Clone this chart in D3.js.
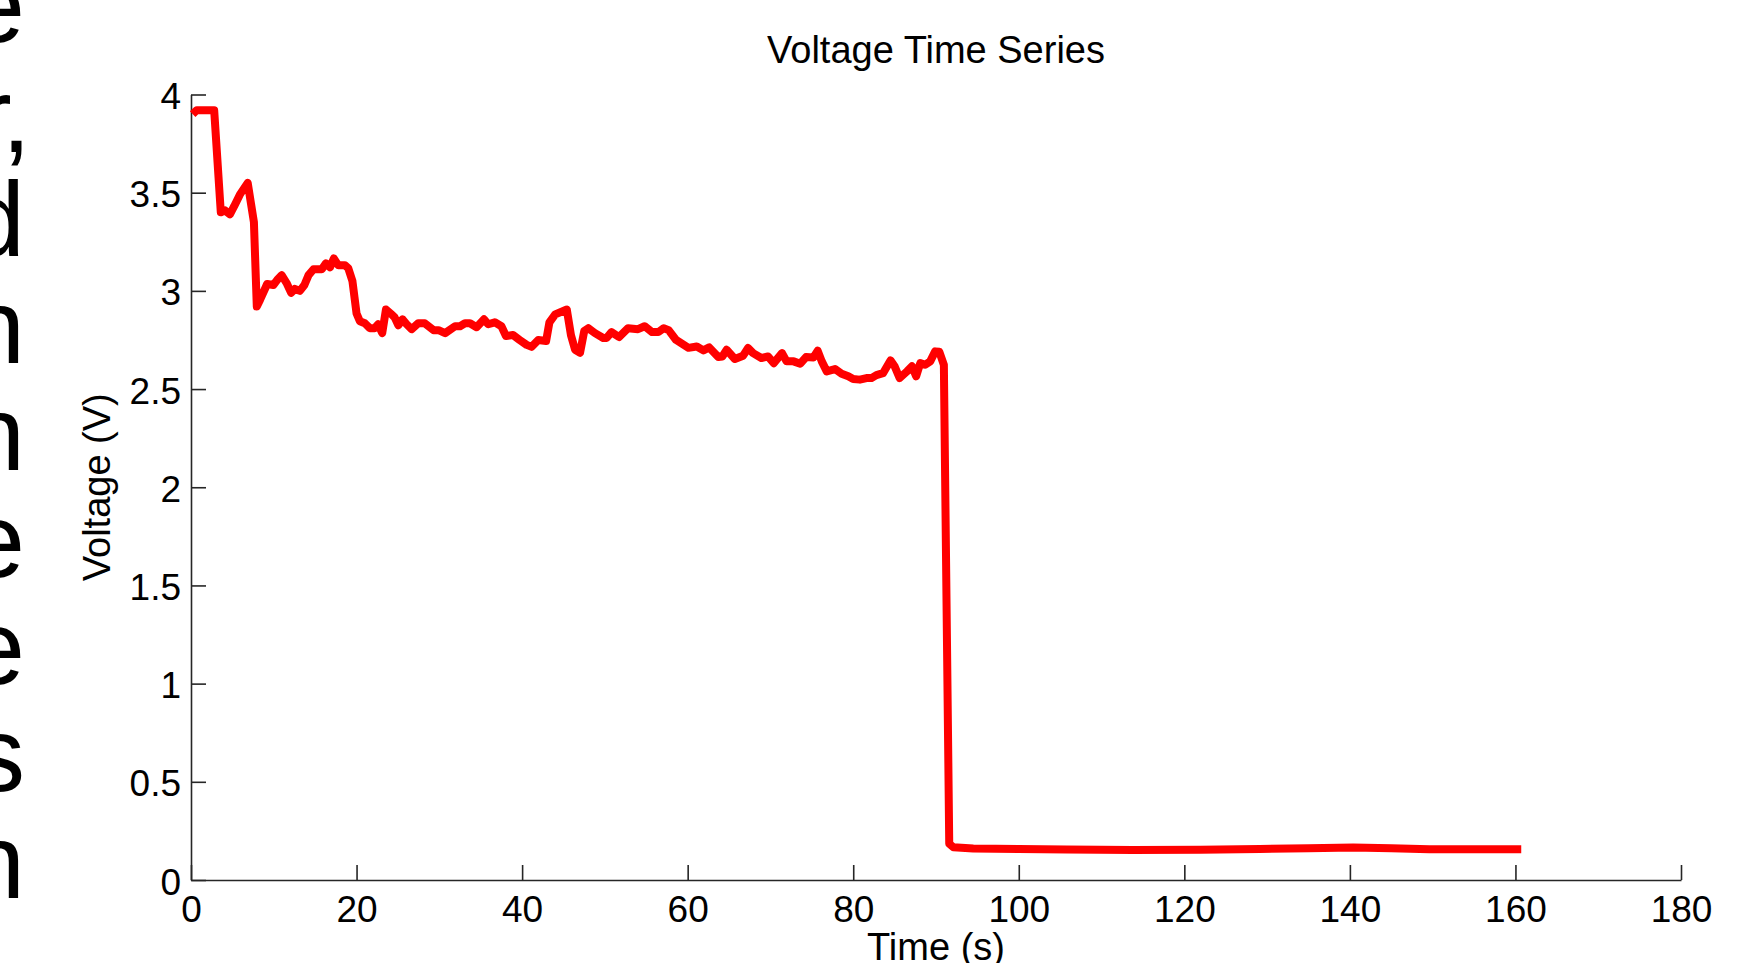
<!DOCTYPE html>
<html>
<head>
<meta charset="utf-8">
<script src="https://cdn.jsdelivr.net/npm/d3@7"></script>
<style>
  html, body { margin: 0; padding: 0; background: #ffffff; }
  svg { display: block; }
  text { font-family: "Liberation Sans", Arial, Helvetica, sans-serif; fill: #000; }
</style>
</head>
<body>
<svg id="chart" width="1762" height="963"></svg>
<script>
// ---- data ----
const chartTitle = "Voltage Time Series";
const xLabel = "Time (s)";
const yLabel = "Voltage (V)";

const xTicks = [0, 20, 40, 60, 80, 100, 120, 140, 160, 180];
const yTicks = [0, 0.5, 1, 1.5, 2, 2.5, 3, 3.5, 4];

const timeS = [
  0.2, 0.7, 2.8, 3.6, 4.1, 4.7, 5.2, 5.9, 6.85, 7.6,
  7.95, 8.35, 9.2, 9.95, 10.4, 10.95, 11.55, 12.1, 12.55, 13.15,
  13.7, 14.2, 14.8, 15.8, 16.3, 16.8, 17.25, 17.8, 18.6, 19.0,
  19.5, 20.0, 20.4, 21.0, 21.6, 22.2, 22.6, 23.1, 23.55, 24.25,
  24.6, 25.05, 25.55, 26.05, 26.65, 27.45, 28.25, 29.3, 29.9, 30.7,
  31.9, 32.5, 33.1, 33.7, 34.5, 35.4, 35.9, 36.7, 37.5, 38.05,
  38.9, 39.7, 40.55, 41.15, 41.95, 42.9, 43.3, 44.0, 45.4, 45.9,
  46.4, 47.0, 47.5, 48.0, 48.8, 49.8, 50.2, 50.8, 51.7, 52.8,
  54.0, 54.8, 55.7, 56.45, 57.1, 57.7, 58.6, 60.1, 61.1, 61.9,
  62.6, 63.7, 64.2, 64.7, 65.7, 66.7, 67.3, 67.9, 68.9, 69.7,
  70.4, 71.4, 71.95, 72.8, 73.6, 74.3, 75.2, 75.7, 76.2, 76.8,
  77.8, 78.6, 79.4, 80.0, 80.8, 81.6, 82.2, 82.8, 83.6, 84.5,
  85.0, 85.6, 86.5, 87.1, 87.6, 88.1, 88.7, 89.3, 89.9, 90.4,
  90.95, 91.6, 92.1, 94.5, 100, 105.8, 113.8, 121.9, 129.1, 135,
  140.4, 145, 149.6, 155, 160.7
];

const voltageV = [
  3.90, 3.92, 3.92, 3.40, 3.41, 3.39, 3.43, 3.49, 3.55, 3.35,
  2.92, 2.955, 3.035, 3.03, 3.055, 3.08, 3.04, 2.99, 3.01, 3.00,
  3.03, 3.08, 3.11, 3.11, 3.14, 3.12, 3.165, 3.13, 3.13, 3.115,
  3.05, 2.885, 2.845, 2.835, 2.81, 2.81, 2.83, 2.785, 2.905, 2.88,
  2.865, 2.825, 2.855, 2.83, 2.805, 2.835, 2.835, 2.80, 2.80, 2.785,
  2.82, 2.82, 2.835, 2.835, 2.815, 2.855, 2.83, 2.84, 2.82, 2.77,
  2.775, 2.75, 2.725, 2.715, 2.75, 2.745, 2.84, 2.88, 2.905, 2.775,
  2.70, 2.685, 2.795, 2.81, 2.785, 2.76, 2.76, 2.79, 2.765, 2.81,
  2.805, 2.82, 2.79, 2.79, 2.81, 2.80, 2.75, 2.71, 2.717, 2.697,
  2.712, 2.663, 2.666, 2.70, 2.653, 2.67, 2.709, 2.683, 2.658, 2.666,
  2.632, 2.683, 2.641, 2.641, 2.629, 2.663, 2.661, 2.695, 2.641, 2.59,
  2.602, 2.578, 2.565, 2.551, 2.548, 2.556, 2.556, 2.571, 2.581, 2.646,
  2.616, 2.556, 2.59, 2.616, 2.565, 2.632, 2.624, 2.641, 2.692, 2.69,
  2.623, 0.185, 0.167, 0.16, 0.158, 0.155, 0.153, 0.154, 0.158, 0.162,
  0.165, 0.162, 0.157, 0.156, 0.156
];

// cut-off text at the left edge of the picture (line ends of a neighbouring column)
const edgeLetters = ["e", "r,", "d", "n", "n", "e", "e", "s", "n"];

// ---- drawing ----
const svg = d3.select("#chart");
svg.append("rect").attr("width", 1762).attr("height", 963).attr("fill", "#fff");

const x = d3.scaleLinear().domain([0, 180]).range([191, 1681]);
const y = d3.scaleLinear().domain([0, 4]).range([880, 94.5]);

// edge letters (right-aligned, cut by the left border)
const edge = svg.append("g").attr("class", "edge-text");
edgeLetters.forEach((s, i) => {
  const base = 42 + 107 * i;
  edge.append("text")
    .attr("x", s.length > 1 ? 27 : 25)
    .attr("y", s.length > 1 ? base + 3 : base)
    .attr("text-anchor", "end")
    .style("font-size", "105px")
    .style("letter-spacing", s.length > 1 ? "-4px" : null)
    .text(s);
});

// axes
const axisColor = "#262626";
const xAxis = d3.axisBottom(x).tickValues(xTicks).tickSize(-15).tickSizeOuter(0)
  .tickFormat(d3.format("d"));
const yAxis = d3.axisLeft(y).tickValues(yTicks).tickSize(-15).tickSizeOuter(0)
  .tickFormat(d => String(d));

const gx = svg.append("g").attr("transform", `translate(0,${y(0)})`).call(xAxis);
const gy = svg.append("g").attr("transform", `translate(${x(0)},0)`).call(yAxis);

[gx, gy].forEach(g => {
  g.select(".domain").attr("stroke", axisColor).attr("stroke-width", 1.6);
  g.selectAll(".tick line").attr("stroke", axisColor).attr("stroke-width", 1.6);
  g.selectAll(".tick text").attr("fill", "#000")
    .style("font-size", "37px")
    .style("font-family", '"Liberation Sans", Arial, Helvetica, sans-serif');
});
gx.selectAll(".tick text").attr("y", 42).attr("dy", 0);
gy.selectAll(".tick text").attr("x", -10).attr("dy", 14);

// line
const line = d3.line()
  .x((d, i) => x(timeS[i]))
  .y((d, i) => y(voltageV[i]));

svg.append("path")
  .datum(voltageV)
  .attr("d", line)
  .attr("fill", "none")
  .attr("stroke", "#ff0000")
  .attr("stroke-width", 8)
  .attr("stroke-linejoin", "round")
  .attr("stroke-linecap", "butt");

// title and labels
svg.append("text")
  .attr("x", (x(0) + x(180)) / 2).attr("y", 63)
  .attr("text-anchor", "middle")
  .style("font-size", "38px")
  .text(chartTitle);

svg.append("text")
  .attr("x", (x(0) + x(180)) / 2).attr("y", 960)
  .attr("text-anchor", "middle")
  .style("font-size", "38px")
  .text(xLabel);

svg.append("text")
  .attr("transform", `translate(110,${(y(0) + y(4)) / 2}) rotate(-90)`)
  .attr("text-anchor", "middle")
  .style("font-size", "38px")
  .text(yLabel);
</script>
</body>
</html>
